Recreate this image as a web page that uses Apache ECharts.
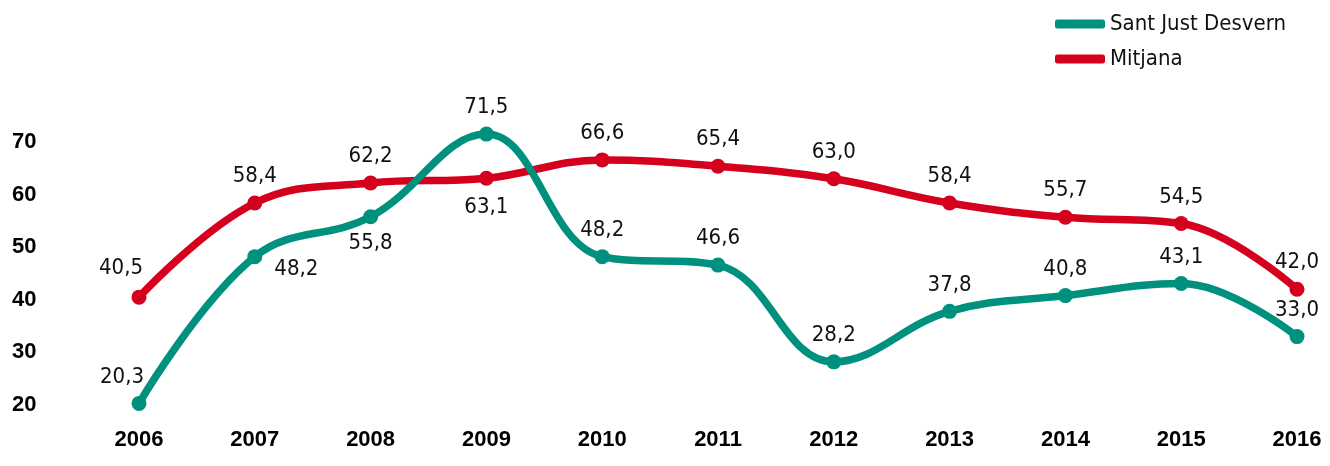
<!DOCTYPE html>
<html>
<head>
<meta charset="utf-8">
<script src="https://cdn.jsdelivr.net/npm/echarts@6/dist/echarts.min.js"></script>
<style>
html,body{margin:0;padding:0;background:#fff;}
#c{width:1330px;height:466px;}
</style>
</head>
<body>
<div id="c"></div>
<script>
const years = ['2006','2007','2008','2009','2010','2011','2012','2013','2014','2015','2016'];
const santJust = [20.3, 48.2, 55.8, 71.5, 48.2, 46.6, 28.2, 37.8, 40.8, 43.1, 33.0];
const mitjana = [40.5, 58.4, 62.2, 63.1, 66.6, 65.4, 63.0, 58.4, 55.7, 54.5, 42.0];
const seriesNames = ['Sant Just Desvern', 'Mitjana'];

const GREEN = '#00917e';
const RED = '#d4001e';
const FONT = "'Liberation Sans Narrow','DejaVu Sans Condensed','Roboto Condensed',sans-serif";
const AXFONT = "'Liberation Sans','Arial',sans-serif";

const fmt = p => p.value.toFixed(1).replace('.', ',');

const greenLabelOverrides = {
  0: {position: 'top', offset: [-17, 0]},
  1: {position: 'right', offset: [4, 13]},
  2: {position: 'bottom', offset: [0, 0]}
};
const redLabelOverrides = {
  0: {position: 'top', offset: [-18, -2]},
  3: {position: 'bottom', offset: [0, 2]}
};

function build(values, overrides) {
  return values.map((v, i) => {
    const o = overrides[i];
    return o ? {value: v, label: o} : v;
  });
}

const chart = echarts.init(document.getElementById('c'), null, {renderer: 'canvas'});
chart.setOption({
  animation: false,
  legend: {
    orient: 'vertical',
    left: 1050,
    top: 8,
    itemWidth: 50,
    itemHeight: 9,
    itemGap: 13,
    icon: 'roundRect',
    textStyle: {fontFamily: FONT, fontSize: 22, color: '#111'},
    data: seriesNames
  },
  grid: {left: 139, right: 33, top: 142, bottom: 61},
  xAxis: {
    type: 'category',
    data: years,
    boundaryGap: false,
    axisLine: {show: false},
    axisTick: {show: false},
    axisLabel: {fontFamily: AXFONT, fontWeight: 'bold', fontSize: 22, color: '#000', margin: 24}
  },
  yAxis: {
    type: 'value',
    min: 20, max: 70, interval: 10,
    splitLine: {show: false},
    axisLine: {show: false},
    axisTick: {show: false},
    axisLabel: {fontFamily: AXFONT, fontWeight: 'bold', fontSize: 22, color: '#000', align: 'left', margin: 127}
  },
  series: [
    {
      name: seriesNames[0],
      type: 'line',
      data: build(santJust, greenLabelOverrides),
      smooth: 0.4,
      clip: false,
      symbol: 'circle',
      symbolSize: 15,
      lineStyle: {color: GREEN, width: 7.5},
      itemStyle: {color: GREEN},
      label: {show: true, position: 'top', distance: 8, formatter: fmt, fontFamily: FONT, fontSize: 22, color: '#111'},
      z: 3
    },
    {
      name: seriesNames[1],
      type: 'line',
      data: build(mitjana, redLabelOverrides),
      smooth: 0.4,
      clip: false,
      symbol: 'circle',
      symbolSize: 15,
      lineStyle: {color: RED, width: 7.5},
      itemStyle: {color: RED},
      label: {show: true, position: 'top', distance: 8, formatter: fmt, fontFamily: FONT, fontSize: 22, color: '#111'},
      z: 2
    }
  ]
});
</script>
</body>
</html>
